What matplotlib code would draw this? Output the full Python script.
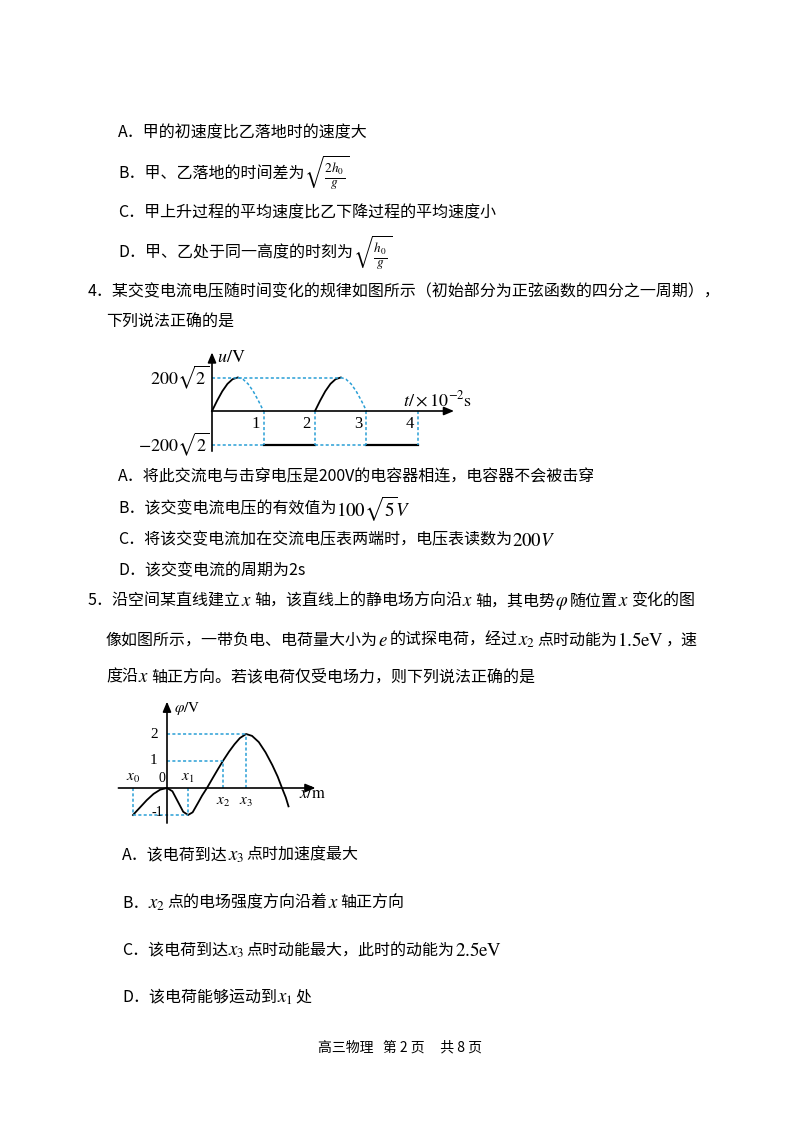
"""Exam page: AC voltage chart and potential curve."""
import matplotlib
matplotlib.use("Agg")
import matplotlib.pyplot as plt

plt.rcParams['font.family'] = ['Noto Sans CJK SC', 'DejaVu Sans']
plt.rcParams['mathtext.fontset'] = 'stix'

W, H = 800, 1130
FS = 11.5
DASH = "#2a9fd6"

# question 4 chart: t in 1e-2 s, u in units of 200*sqrt(2) V
t_rise = [0.0, 0.1, 0.2, 0.3, 0.4, 0.5]
u_rise = [0.0, 0.31, 0.59, 0.81, 0.95, 1.0]
t_fall = [0.5, 0.6, 0.7, 0.8, 0.9, 1.0]
u_fall = [1.0, 0.95, 0.81, 0.59, 0.31, 0.0]
t_ticks = [1, 2, 3, 4]

# question 5 chart: phi vs x
phi_x = [-1.26, -1.0, -0.75, -0.5, -0.25, 0.0, 0.2, 0.4, 0.6, 0.78, 0.95, 1.15,
         1.3, 1.48, 1.7, 1.9, 2.07, 2.3, 2.5, 2.7, 2.93, 3.15, 3.4, 3.65, 3.9,
         4.1, 4.26, 4.4, 4.5]
phi_y = [-1.0, -0.72, -0.45, -0.22, -0.06, 0.0, -0.12, -0.5, -0.88, -1.0, -0.9,
         -0.55, -0.28, 0.0, 0.38, 0.72, 1.0, 1.35, 1.62, 1.85, 2.0, 1.93, 1.7,
         1.32, 0.85, 0.42, 0.0, -0.35, -0.68]
x_marks = {"x_0": -1.26, "x_1": 0.78, "x_2": 2.07, "x_3": 2.93}

fig = plt.figure(figsize=(W / 100, H / 100), dpi=100)
page = fig.add_axes([0, 0, 1, 1])
page.set_xlim(0, W)
page.set_ylim(H, 0)
page.axis("off")
fig.canvas.draw()
renderer = fig.canvas.get_renderer()


def put(x, y, parts, fs=FS):
    # parts drawn one after another; "$..$" parts use mathtext, a bit larger
    for p in parts:
        size = fs * 1.18 if p.startswith("$") else fs
        t = page.text(x, y, p, fontsize=size, va="center", ha="left")
        bb = t.get_window_extent(renderer)
        x += bb.width + (2 if p.startswith("$") else 0)


put(118, 133, ["A．甲的初速度比乙落地时的速度大"])
put(118, 173, ["B．甲、乙落地的时间差为", r"$\sqrt{\frac{2h_0}{g}}$"])
put(118, 213, ["C．甲上升过程的平均速度比乙下降过程的平均速度小"])
put(118, 253, ["D．甲、乙处于同一高度的时刻为", r"$\sqrt{\frac{h_0}{g}}$"])
put(88, 292, ["4．某交变电流电压随时间变化的规律如图所示（初始部分为正弦函数的四分之一周期），"])
put(106, 322, ["下列说法正确的是"])
put(118, 477, ["A．将此交流电与击穿电压是200V的电容器相连，电容器不会被击穿"])
put(118, 509, ["B．该交变电流电压的有效值为", r"$100\sqrt{5}V$"], )
put(118, 540, ["C．将该交变电流加在交流电压表两端时，电压表读数为", r"$200V$"])
put(118, 571, ["D．该交变电流的周期为2s"])
put(88, 601, ["5．沿空间某直线建立", r"$x$", "轴，该直线上的静电场方向沿", r"$x$",
              "轴，其电势", r"$\varphi$", "随位置", r"$x$", "变化的图"])
put(106, 640, ["像如图所示，一带负电、电荷量大小为", r"$e$", "的试探电荷，经过", r"$x_2$",
               "点时动能为", r"$1.5\mathrm{eV}$", "，速"])
put(106, 677, ["度沿", r"$x$", "轴正方向。若该电荷仅受电场力，则下列说法正确的是"])
put(122, 855, ["A．该电荷到达", r"$x_3$", "点时加速度最大"])
put(122, 903, ["B．", r"$x_2$", "点的电场强度方向沿着", r"$x$", "轴正方向"])
put(122, 950, ["C．该电荷到达", r"$x_3$", "点时动能最大，此时的动能为", r"$2.5\mathrm{eV}$"])
put(122, 997, ["D．该电荷能够运动到", r"$x_1$", "处"])
page.text(400, 1047, "高三物理   第 2 页     共 8 页", fontsize=10, ha="center", va="center")


def make_ax(left, right, top, bottom, ox, oy, sx, sy):
    ax = fig.add_axes([left / W, 1 - bottom / H, (right - left) / W, (bottom - top) / H])
    ax.set_xlim((left - ox) / sx, (right - ox) / sx)
    ax.set_ylim((oy - bottom) / sy, (oy - top) / sy)
    ax.axis("off")
    return ax


def arrow_axes(ax, x0, x1, y0, y1):
    kw = dict(arrowstyle="-|>,head_width=0.25,head_length=0.6", color="black", lw=1.2,
              shrinkA=0, shrinkB=0)
    ax.annotate("", xy=(x1, 0), xytext=(x0, 0), arrowprops=kw)
    ax.annotate("", xy=(0, y1), xytext=(0, y0), arrowprops=kw)


# ---- chart for question 4
a1 = make_ax(140, 470, 340, 465, 212, 411, 51.5, 33.5)
arrow_axes(a1, 0, 4.7, -1.2, 1.75)
a1.plot(t_rise, u_rise, color="black", lw=1.3)
a1.plot([v + 2 for v in t_rise], u_rise, color="black", lw=1.3)
a1.plot(t_fall, u_fall, color=DASH, ls=(0, (2, 1.5)), lw=1.1)
a1.plot([v + 2 for v in t_fall], u_fall, color=DASH, ls=(0, (2, 1.5)), lw=1.1)
a1.plot([1, 2], [-1, -1], color="black", lw=1.6)
a1.plot([3, 4], [-1, -1], color="black", lw=1.6)
dk = dict(color=DASH, ls=(0, (2, 1.5)), lw=1.1)
a1.plot([0, 2.5], [1, 1], **dk)
a1.plot([0, 1], [-1, -1], **dk)
a1.plot([2, 3], [-1, -1], **dk)
for tk in t_ticks:
    a1.plot([tk, tk], [0, -1], **dk)
    a1.text(tk - 0.08, -0.15, str(tk), fontsize=12, ha="right", va="top", family="Liberation Serif")
a1.text(-0.05, 1, r"$200\sqrt{2}$", fontsize=13, ha="right", va="center")
a1.text(-0.05, -1, r"$-200\sqrt{2}$", fontsize=13, ha="right", va="center")
a1.text(0.1, 1.62, r"$u/\mathrm{V}$", fontsize=13, va="center")
a1.text(3.7, 0.33, r"$t/\times 10^{-2}\mathrm{s}$", fontsize=13, va="center")

# ---- chart for question 5
a2 = make_ax(118, 335, 695, 830, 167, 788, 27, 27)
arrow_axes(a2, -1.8, 5.5, -1.3, 3.2)
a2.plot(phi_x, phi_y, color="black", lw=1.3)
a2.plot([0, x_marks["x_3"]], [2, 2], **dk)
a2.plot([0, x_marks["x_2"]], [1, 1], **dk)
a2.plot([x_marks["x_0"], x_marks["x_1"]], [-1, -1], **dk)
for name, xv in x_marks.items():
    yv = phi_y[phi_x.index(xv)]
    a2.plot([xv, xv], [0, yv], **dk)
    if yv > 0:
        a2.text(xv, -0.15, "$%s$" % name, fontsize=11, ha="center", va="top")
    else:
        a2.text(xv, 0.12, "$%s$" % name, fontsize=11, ha="center", va="bottom")
a2.text(-0.2, 0.12, "0", fontsize=10, ha="center", va="bottom", family="Liberation Serif")
for v in [1, 2]:
    a2.text(-0.35, v, str(v), fontsize=11, ha="right", va="center", family="Liberation Serif")
a2.text(-0.15, -0.9, "-1", fontsize=10, ha="right", va="center", family="Liberation Serif")
a2.text(0.25, 2.95, r"$\varphi/\mathrm{V}$", fontsize=11, va="center")
a2.text(4.9, -0.2, r"$x/\mathrm{m}$", fontsize=12, va="center")

fig.savefig("out.png", dpi=100, facecolor="white")
